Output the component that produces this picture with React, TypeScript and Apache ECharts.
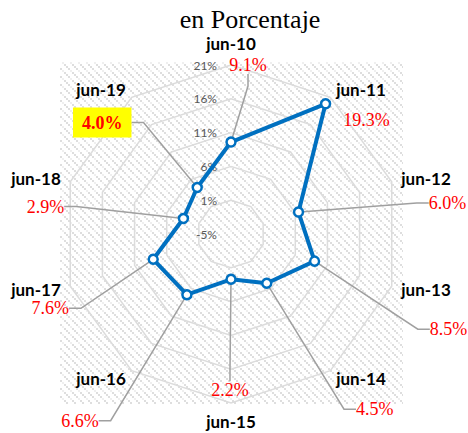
import React, { useEffect, useRef } from "react";
import * as echarts from "echarts";

const categories = ["jun-10", "jun-11", "jun-12", "jun-13", "jun-14", "jun-15", "jun-16", "jun-17", "jun-18", "jun-19"];
const values = [9.1, 19.3, 6.0, 8.5, 4.5, 2.2, 6.6, 7.6, 2.9, 4.0];
const tickLabels = ["-5%", "1%", "6%", "11%", "16%", "21%"];
const axisMin = -4.5;
const axisMax = 20.5;

// label offsets (px) from each point, layout only
const labelOffsets: [number, number][] = [
  [17, -77], [41, 16], [149, -9], [134, 68], [108, 126],
  [-1, 111], [-107, 126], [-103, 49], [-138, -12], [-95, -65],
];

// ECharts radar runs counter-clockwise; reverse order (keeping the first) to run clockwise
const radarOrder = categories.map((_, i) => (i === 0 ? 0 : categories.length - i));

function makePattern() {
  const c = document.createElement("canvas");
  c.width = 8;
  c.height = 8;
  const ctx = c.getContext("2d")!;
  ctx.fillStyle = "#ffffff";
  ctx.fillRect(0, 0, 8, 8);
  ctx.fillStyle = "#dedede";
  for (const k of [0, 2, 4]) ctx.fillRect(k, k, 2, 2);
  ctx.fillStyle = "#efefef";
  ctx.fillRect(6, 6, 2, 2);
  return c;
}

export default function App() {
  const ref = useRef<HTMLDivElement>(null);
  useEffect(() => {
    const chart = echarts.init(ref.current!, null, { renderer: "svg" });
    const pattern = makePattern();
    chart.setOption({
      animation: false,
      backgroundColor: "#ffffff",
      title: {
        text: "en Porcentaje",
        left: 245,
        top: 1,
        textAlign: "center",
        textStyle: { fontFamily: "Liberation Serif", fontSize: 26, fontWeight: "normal", color: "#000" },
      },
      graphic: [
        {
          type: "rect",
          z: -10,
          silent: true,
          shape: { x: 60, y: 62, width: 343, height: 342 },
          style: { fill: { image: pattern, repeat: "repeat", imageWidth: 8, imageHeight: 8 } as any },
        },
      ],
      radar: {
        center: [231, 234],
        radius: 169,
        startAngle: 90,
        splitNumber: 5,
        shape: "polygon",
        nameGap: 10,
        indicator: radarOrder.map((k, i) => ({
          name: categories[k],
          min: axisMin,
          max: axisMax,
          ...(i === 0 ? { axisLabel: { show: true }, nameGap: 13 } : {}),
        })),
        axisName: { color: "#000", fontWeight: "bold", fontSize: 17, fontFamily: "Lato" },
        axisLine: { show: false },
        axisTick: { show: false },
        splitLine: { lineStyle: { color: "#dcdcdc", width: 1.5 } },
        splitArea: { show: false },
        axisLabel: {
          show: false,
          color: "#595959",
          fontSize: 12,
          fontFamily: "Lato",
          margin: 14,
          formatter: (v: number) => tickLabels[Math.round((v - axisMin) / 5)] ?? "",
        },
      },
      polar: { center: [231, 234], radius: [0, 169] },
      angleAxis: { type: "category", data: categories, startAngle: 90, clockwise: true, boundaryGap: false, show: false },
      radiusAxis: { type: "value", min: axisMin, max: axisMax, show: false },
      series: [
        {
          type: "radar",
          z: 3,
          symbol: "none",
          lineStyle: { color: "#0070C0", width: 4 },
          data: [{ value: radarOrder.map((k) => values[k]) }],
        },
        {
          type: "scatter",
          coordinateSystem: "polar",
          z: 4,
          symbol: "circle",
          symbolSize: 9,
          itemStyle: { color: "#ffffff", borderColor: "#0070C0", borderWidth: 2.5, opacity: 1 },
          label: {
            show: true,
            position: "inside",
            color: "#ff0000",
            fontFamily: "Liberation Serif",
            fontSize: 18,
            formatter: (p: any) => values[p.dataIndex].toFixed(1) + "%",
          },
          labelLine: { show: true, length2: 12, lineStyle: { color: "#a0a0a0", width: 1.5 } },
          labelLayout: (p: any) => ({ dx: labelOffsets[p.dataIndex][0], dy: labelOffsets[p.dataIndex][1] }),
          data: values.map((v, i) => {
            const item: any = { value: [v, categories[i]] };
            if (i === 1) item.labelLine = { show: false };
            if (i === 9)
              item.label = { backgroundColor: "#ffff00", padding: [6, 9], fontWeight: "bold", color: "#ff0000" };
            return item;
          }),
        },
      ],
    });
    return () => chart.dispose();
  }, []);
  return <div ref={ref} style={{ position: "fixed", left: 0, top: 0, width: 468, height: 433 }} />;
}
